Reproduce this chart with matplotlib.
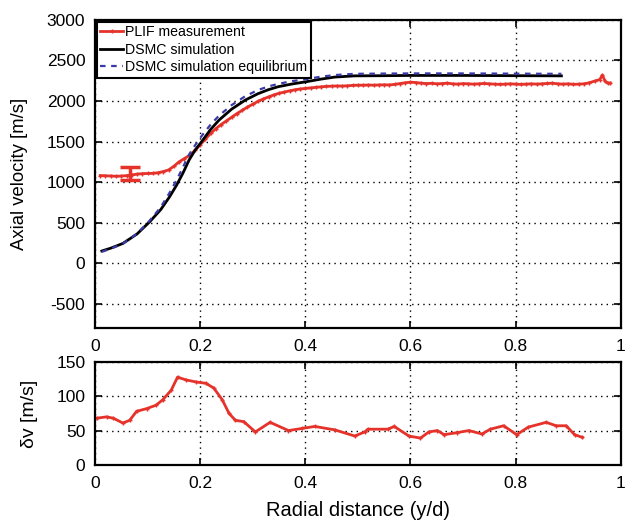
import numpy as np
import matplotlib.pyplot as plt

plt.rcParams['font.family'] = ['Liberation Sans', 'DejaVu Sans']
plt.rcParams['axes.unicode_minus'] = False

# PLIF measurement (axial velocity)
plif_x = [0.01, 0.02, 0.03, 0.04, 0.05, 0.06, 0.07, 0.08, 0.09, 0.10,
          0.11, 0.12, 0.13, 0.14, 0.15, 0.16, 0.17, 0.18, 0.19, 0.20,
          0.21, 0.22, 0.23, 0.24, 0.25, 0.26, 0.27, 0.28, 0.29, 0.30,
          0.31, 0.32, 0.33, 0.34, 0.35, 0.36, 0.37, 0.38, 0.39, 0.40,
          0.41, 0.42, 0.43, 0.44, 0.45, 0.46, 0.47, 0.48, 0.49, 0.50,
          0.51, 0.52, 0.53, 0.54, 0.55, 0.56, 0.57, 0.58, 0.59, 0.60,
          0.61, 0.62, 0.63, 0.64, 0.65, 0.66, 0.67, 0.68, 0.69, 0.70,
          0.71, 0.72, 0.73, 0.74, 0.75, 0.76, 0.77, 0.78, 0.79, 0.80,
          0.81, 0.82, 0.83, 0.84, 0.85, 0.86, 0.87, 0.88, 0.89, 0.90,
          0.91, 0.92, 0.93, 0.94, 0.95, 0.96, 0.965, 0.97, 0.975, 0.98]
plif_v = [1080, 1078, 1075, 1072, 1074, 1080, 1088, 1098, 1104, 1106,
          1108, 1115, 1130, 1150, 1195, 1250, 1290, 1330, 1390, 1460,
          1530, 1600, 1660, 1710, 1755, 1800, 1845, 1885, 1925, 1960,
          1995, 2025, 2050, 2075, 2095, 2110, 2125, 2138, 2148, 2155,
          2162, 2168, 2175, 2180, 2183, 2186, 2184, 2188, 2192, 2195,
          2195, 2197, 2195, 2198, 2200, 2198, 2205, 2215, 2225, 2232,
          2228, 2220, 2215, 2218, 2212, 2215, 2220, 2212, 2208, 2215,
          2212, 2208, 2212, 2216, 2212, 2208, 2205, 2208, 2212, 2208,
          2205, 2208, 2212, 2208, 2212, 2216, 2220, 2212, 2208, 2212,
          2205, 2208, 2212, 2225, 2245, 2265, 2320, 2245, 2220, 2222]

# DSMC simulation
dsmc_x = [0.013, 0.03, 0.053, 0.08, 0.104, 0.125, 0.142, 0.155, 0.167, 0.179,
          0.19, 0.203, 0.22, 0.236, 0.26, 0.286, 0.31, 0.33, 0.349, 0.375,
          0.402, 0.43, 0.456, 0.494, 0.55, 0.6, 0.7, 0.8, 0.887]
dsmc_v = [150, 185, 243, 360, 510, 660, 820, 960, 1107, 1272,
          1390, 1500, 1650, 1765, 1900, 2012, 2090, 2140, 2177, 2210,
          2238, 2270, 2295, 2310, 2312, 2315, 2315, 2312, 2310]

# DSMC simulation equilibrium
eq_v = [140, 178, 240, 365, 525, 690, 870, 1020, 1180, 1340,
        1450, 1570, 1710, 1820, 1950, 2060, 2135, 2180, 2212, 2245,
        2270, 2300, 2320, 2335, 2338, 2340, 2340, 2337, 2335]

# error bar on PLIF
err_x, err_y, err_dy = 0.066, 1100, 80

# velocity uncertainty dv
dv_x = [0.003, 0.022, 0.035, 0.053, 0.066, 0.079, 0.098, 0.116, 0.129, 0.145,
        0.157, 0.173, 0.192, 0.211, 0.226, 0.242, 0.255, 0.267, 0.283, 0.305,
        0.333, 0.368, 0.393, 0.418, 0.456, 0.494, 0.513, 0.519, 0.557, 0.569,
        0.597, 0.619, 0.635, 0.651, 0.664, 0.689, 0.711, 0.736, 0.752, 0.777,
        0.802, 0.824, 0.858, 0.877, 0.896, 0.912, 0.927]
dv_v = [68, 70, 68, 61, 65, 78, 82, 87, 95, 109,
        128, 124, 121, 119, 112, 95, 75, 65, 63, 48,
        62, 50, 53, 56, 51, 42, 48, 52, 52, 56,
        42, 39, 48, 50, 44, 47, 50, 45, 52, 57,
        44, 55, 62, 57, 57, 44, 40]

red = '#e5322a'
blue = '#3a3aa8'
grid_ls = (0, (1, 3))

fig = plt.figure(figsize=(6.29, 5.24), dpi=100)
ax1 = fig.add_axes([0.151, 0.374, 0.836, 0.588])
ax2 = fig.add_axes([0.151, 0.113, 0.836, 0.196])

ax1.plot(plif_x, plif_v, '-+', color=red, lw=2, ms=3.5, mew=1, label='PLIF measurement')
ax1.plot(dsmc_x, dsmc_v, '-', color='black', lw=2, label='DSMC simulation')
ax1.plot(dsmc_x, eq_v, '--', color=blue, lw=1.6, dashes=(2.5, 2.5), label='DSMC simulation equilibrium')
ax1.errorbar(err_x, err_y, yerr=err_dy, color=red, lw=2.5, capsize=7.5, capthick=2.5, zorder=5)

ax2.plot(dv_x, dv_v, '-+', color=red, lw=2, ms=3.5, mew=1)

for ax in (ax1, ax2):
    ax.set_xlim(0, 1)
    ax.set_xticks([0, 0.2, 0.4, 0.6, 0.8, 1])
    ax.set_xticklabels(['0', '0.2', '0.4', '0.6', '0.8', '1'])
    ax.grid(True, color='black', ls=grid_ls, lw=1)
    ax.tick_params(direction='in', top=True, right=True, labelsize=12.5, length=5, width=1.2, pad=8)
    ax.tick_params(axis='y', pad=7)
    for s in ax.spines.values():
        s.set_linewidth(1.6)

ax1.set_ylim(-800, 3000)
ax1.set_yticks(np.arange(-500, 3001, 500))
ax1.set_ylabel('Axial velocity [m/s]', fontsize=13.3)
ax1.yaxis.set_label_coords(-0.128, 0.5)
leg = ax1.legend(loc='upper left', fontsize=10.2, fancybox=False, edgecolor='black',
                 framealpha=1, borderpad=0.25, labelspacing=0.25, handlelength=1.6,
                 handletextpad=0.15, borderaxespad=0.12)
leg.get_frame().set_linewidth(1.5)

ax2.set_ylim(0, 150)
ax2.set_yticks([0, 50, 100, 150])
ax2.set_ylabel('δv [m/s]', fontsize=14)
ax2.yaxis.set_label_coords(-0.109, 0.5)
ax2.set_xlabel('Radial distance (y/d)', fontsize=14.5, labelpad=7)

fig.savefig('out.png', dpi=100)
